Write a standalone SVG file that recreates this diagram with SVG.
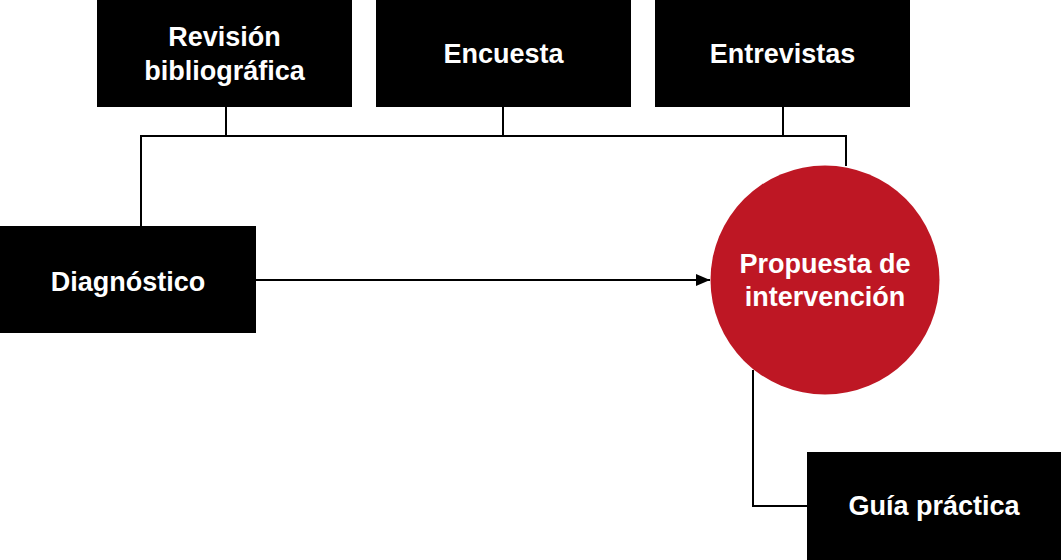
<svg xmlns="http://www.w3.org/2000/svg" width="1061" height="560" viewBox="0 0 1061 560">
<style>
.box{fill:#000}
.t{font-family:"Liberation Sans",Arial,sans-serif;font-weight:bold;font-size:27px;fill:#fff;text-anchor:middle}
.c{fill:none;stroke:#000;stroke-width:2}
</style>
<defs>
<marker id="arr" markerWidth="14" markerHeight="12" refX="14" refY="6" orient="auto" markerUnits="userSpaceOnUse">
<path d="M0,0 L14,6 L0,12 Z" fill="#000"/>
</marker>
</defs>
<g id="connectors">
<path class="c" d="M226,107 V136"/>
<path class="c" d="M503,107 V136"/>
<path class="c" d="M783,107 V136"/>
<path class="c" d="M141,226 V136 H846 V166"/>
<path class="c" d="M256,280 H710" marker-end="url(#arr)"/>
<path class="c" d="M753,370 V506 H807"/>
</g>
<g id="revision">
<rect class="box" x="97" y="0" width="255" height="107"/>
<text class="t" x="224.5" y="46">Revisión</text>
<text class="t" x="224.5" y="80">bibliográfica</text>
</g>
<g id="encuesta">
<rect class="box" x="376" y="0" width="255" height="107"/>
<text class="t" x="503.5" y="63">Encuesta</text>
</g>
<g id="entrevistas">
<rect class="box" x="655" y="0" width="255" height="107"/>
<text class="t" x="782.5" y="63">Entrevistas</text>
</g>
<g id="diagnostico">
<rect class="box" x="0" y="226" width="256" height="107"/>
<text class="t" x="128" y="291">Diagnóstico</text>
</g>
<g id="propuesta">
<circle cx="825" cy="280" r="114.5" fill="#be1724"/>
<text class="t" x="825" y="273">Propuesta de</text>
<text class="t" x="825" y="306">intervención</text>
</g>
<g id="guia">
<rect class="box" x="807" y="452" width="254" height="108"/>
<text class="t" x="934" y="515">Guía práctica</text>
</g>
</svg>
